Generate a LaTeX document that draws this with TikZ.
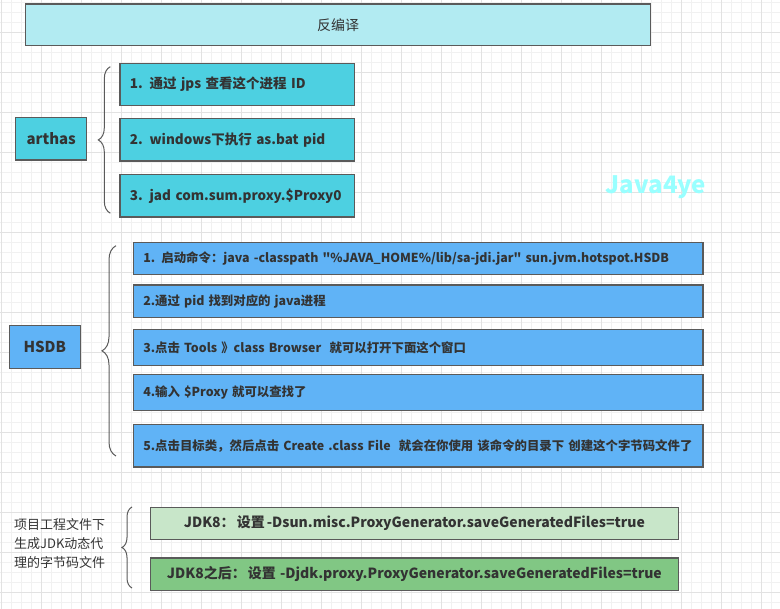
\documentclass[tikz,border=0pt]{standalone}
\usepackage{fontspec}
\setmainfont{Noto Sans CJK SC}[Ligatures=TeXOff, WordSpace=0.65]
\usetikzlibrary{calc,positioning,decorations.pathreplacing}

\definecolor{gridlight}{HTML}{F1F1F1}
\definecolor{gridmajor}{HTML}{E2E2E2}
\definecolor{boxline}{HTML}{5A5A5A}
\definecolor{txt}{HTML}{333333}
\definecolor{topfill}{HTML}{B2EBF2}
\definecolor{arthasfill}{HTML}{4DD0E1}
\definecolor{hsdbfill}{HTML}{60B3F6}
\definecolor{jdkfill}{HTML}{C8E6C9}
\definecolor{jdknewfill}{HTML}{81C784}
\definecolor{mark}{HTML}{99FFFF}

\begin{document}
\begin{tikzpicture}[x=1pt, y=-1pt]
      \tikzstyle{gridminor}=[draw=gridlight, line width=0.8pt]
      \tikzstyle{gridmain}=[draw=gridmajor, line width=0.8pt]
      \tikzstyle{box}=[draw=boxline, line width=1.2pt, rectangle, text=txt, inner sep=0pt]
      \tikzstyle{item}=[box, anchor=north west, inner xsep=10pt, align=left]
      \tikzstyle{aitem}=[item, fill=arthasfill, text width=214.7, minimum height=42.3, font=\bfseries\fontsize{13.5}{16}\selectfont]
      \tikzstyle{hitem}=[item, fill=hsdbfill, text width=549.6, font=\bfseries\fontsize{12.4}{15}\selectfont]
      \tikzstyle{jitem}=[box, anchor=north west, minimum width=527.5, minimum height=32.3, font=\bfseries\fontsize{14}{16}\selectfont]
      \tikzstyle{label}=[box, minimum width=71, minimum height=42.5, font=\bfseries\fontsize{15}{17}\selectfont]
      \tikzstyle{curly}=[draw=boxline, line width=1pt, decorate]

      \useasboundingbox (0,0) rectangle (780,609);

      % background grid
      \foreach \x in {1.7,11.7,...,771.7} \draw[gridminor] (\x,0) -- (\x,609);
      \foreach \y in {2.7,12.7,...,602.7} \draw[gridminor] (0,\y) -- (780,\y);
      \foreach \x in {1.7,41.7,...,761.7} \draw[gridmain] (\x,0) -- (\x,609);
      \foreach \y in {32.7,72.7,...,592.7} \draw[gridmain] (0,\y) -- (780,\y);

      % title
      \node[box, fill=topfill, minimum width=624.6, minimum height=41.7, font=\fontsize{14}{16}\selectfont] (title) at (338,24.8) {反编译};

      % arthas
      \node[label, fill=arthasfill] (arthas) at (51.2,138.7) {arthas};
      \node[aitem] (a1) at (119.3,62.7) {1. 通过 jps 查看这个进程 ID};
      \node[aitem, below=12pt of a1.south west, anchor=north west] (a2) {2. windows下执行 as.bat pid};
      \node[aitem, below=12.5pt of a2.south west, anchor=north west] (a3) {\mbox{3. jad com.sum.proxy.\$Proxy0}};
      \draw[curly, decoration={brace, amplitude=12pt}]
        ($(a3.south west)+(-9,-4.5)$) -- ($(a1.north west)+(-9,4)$);

      \node[font=\bfseries\fontsize{24}{24}\selectfont, text=mark] (logo) at (656,187) {Java4ye};

      % HSDB
      \node[label, fill=hsdbfill] (hsdb) at (44.8,347) {HSDB};
      \node[hitem, minimum height=32.3] (h1) at (132.7,241.7) {\mbox{1. 启动命令：java -classpath "\%JAVA\_HOME\%/lib/sa-jdi.jar" sun.jvm.hotspot.HSDB}};
      \node[hitem, minimum height=32.7, below=9.3pt of h1.south west, anchor=north west] (h2) {2.通过 pid 找到对应的 java进程};
      \node[hitem, minimum height=36, below=10.7pt of h2.south west, anchor=north west] (h3) {3.点击 Tools 》class Browser ~就可以打开下面这个窗口};
      \node[hitem, minimum height=36, below=8pt of h3.south west, anchor=north west] (h4) {4.输入 \$Proxy 就可以查找了};
      \node[hitem, minimum height=42.4, below=12.6pt of h4.south west, anchor=north west] (h5) {\mbox{5.点击目标类，然后点击 Create .class File ~就会在你使用 该命令的目录下 创建这个字节码文件了}};
      \draw[curly, decoration={brace, amplitude=14pt}]
        ($(h5.south west)+(-16.7,-11.7)$) -- ($(h1.north west)+(-16.7,4)$);

      % JDK
      \node[align=left, anchor=west, inner sep=0pt, text=txt, font=\fontsize{13}{19}\selectfont] (proj) at (14,544) {项目工程文件下\\生成JDK动态代\\理的字节码文件};
      \node[jitem, fill=jdkfill] (j1) at (150,506.7) {JDK8：~设置 -Dsun.misc.ProxyGenerator.saveGeneratedFiles=true};
      \node[jitem, fill=jdknewfill, below=17.3pt of j1.south west, anchor=north west] (j2) {JDK8之后：~设置 ~-Djdk.proxy.ProxyGenerator.saveGeneratedFiles=true};
      \draw[curly, decoration={brace, amplitude=10pt}]
        ($(j2.south west)+(-18,-3)$) -- ($(j1.north west)+(-18,0.3)$);
\end{tikzpicture}
\end{document}
